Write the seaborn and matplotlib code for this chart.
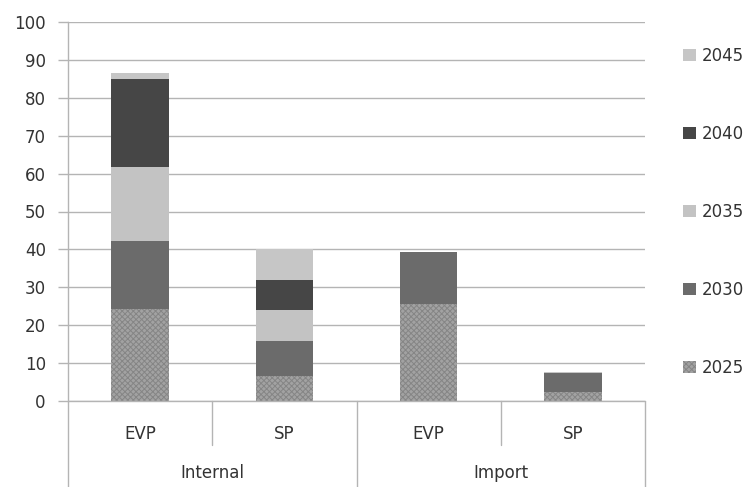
import numpy as np
import pandas as pd
import matplotlib
matplotlib.use("Agg")
import matplotlib.pyplot as plt
import matplotlib.transforms as mtransforms
from matplotlib.patches import Patch
import seaborn as sns

# Data
groups = ["Internal", "Internal", "Import", "Import"]
types = ["EVP", "SP", "EVP", "SP"]
years = ["2025", "2030", "2035", "2040", "2045"]
v2025 = [24.4, 6.6, 25.6, 2.5]
v2030 = [17.7, 9.1, 13.6, 5.0]
v2035 = [19.6, 8.4, 0.0, 0.0]
v2040 = [23.2, 7.7, 0.0, 0.0]
v2045 = [1.6, 8.3, 0.0, 0.2]
yticks = [0, 10, 20, 30, 40, 50, 60, 70, 80, 90, 100]

series = [v2025, v2030, v2035, v2040, v2045]
colors = {"2025": "#a2a2a2", "2030": "#6b6b6b", "2035": "#c3c3c3",
          "2040": "#464646", "2045": "#c6c6c6"}
HATCH = "xxxxxx"
HATCH_EDGE = "#858585"

sns.set_style("white")
plt.rcParams["font.family"] = ["DejaVu Sans"]
plt.rcParams["hatch.linewidth"] = 0.7

FS = 12
TXT = "#333333"
GRID = "#b4b4b4"

keys = [f"{g}|{t}" for g, t in zip(groups, types)]
cum = np.cumsum(np.array(series), axis=0)

fig = plt.figure(figsize=(7.51, 4.87), dpi=100)
ax = fig.add_axes([68 / 751, 1 - 401 / 487, (645 - 68) / 751, (401 - 22) / 487])

# Stacked bars: draw cumulative totals from the top layer down
for i in range(len(years) - 1, -1, -1):
    df = pd.DataFrame({"cat": keys, "val": cum[i]})
    sns.barplot(data=df, x="cat", y="val", order=keys, color=colors[years[i]],
                saturation=1, width=0.4, ax=ax, linewidth=0, errorbar=None)
    if years[i] == "2025":
        for p in ax.patches[-len(keys):]:
            p.set_edgecolor(HATCH_EDGE)
            p.set_linewidth(0)
            p.set_hatch(HATCH)

ax.set_ylim(0, 100)
ax.set_xlim(-0.5, len(keys) - 0.5)
ax.set_yticks(yticks)
ax.set_yticklabels([str(t) for t in yticks], fontsize=FS, color=TXT)
ax.yaxis.grid(True, color=GRID, linewidth=1)
ax.set_axisbelow(True)
ax.set_xlabel("")
ax.set_ylabel("")
ax.set_xticks([])
ax.tick_params(axis="y", length=7, width=1, color=GRID, pad=9, left=True)
for s in ["top", "right", "bottom"]:
    ax.spines[s].set_visible(False)
ax.spines["left"].set_color(GRID)
ax.spines["left"].set_linewidth(1)

# Two-level category axis below the plot
trans = mtransforms.blended_transform_factory(ax.transData, ax.transAxes)
bottom_full = -(487 - 401) / 379
bottom_short = -(445 - 401) / 379
line_kw = dict(color=GRID, linewidth=1, transform=trans, clip_on=False)
ax.plot([-0.5, len(keys) - 0.5], [0, 0], **line_kw)
for x in [-0.5, 1.5, 3.5]:
    ax.plot([x, x], [0, bottom_full], **line_kw)
for x in [0.5, 2.5]:
    ax.plot([x, x], [0, bottom_short], **line_kw)
for i, t in enumerate(types):
    ax.text(i, -(434 - 401) / 379, t, transform=trans, ha="center", va="center",
            fontsize=FS, color=TXT)
for gi, g in enumerate(["Internal", "Import"]):
    ax.text(gi * 2 + 0.5, -(473 - 401) / 379, g, transform=trans, ha="center",
            va="center", fontsize=FS, color=TXT)

# Legend, newest year on top
handles = []
for y in reversed(years):
    if y == "2025":
        h = Patch(facecolor=colors[y], edgecolor=HATCH_EDGE, linewidth=0,
                  hatch=HATCH, label=y)
    else:
        h = Patch(facecolor=colors[y], edgecolor="none", label=y)
    handles.append(h)
fig.legend(handles=handles, loc="upper left", bbox_to_anchor=(668 / 751, 1 - 32 / 487),
           frameon=False, fontsize=FS, handlelength=0.75, handleheight=0.75,
           handletextpad=0.35, labelspacing=3.6, labelcolor=TXT)

fig.savefig("out.png", dpi=100)
